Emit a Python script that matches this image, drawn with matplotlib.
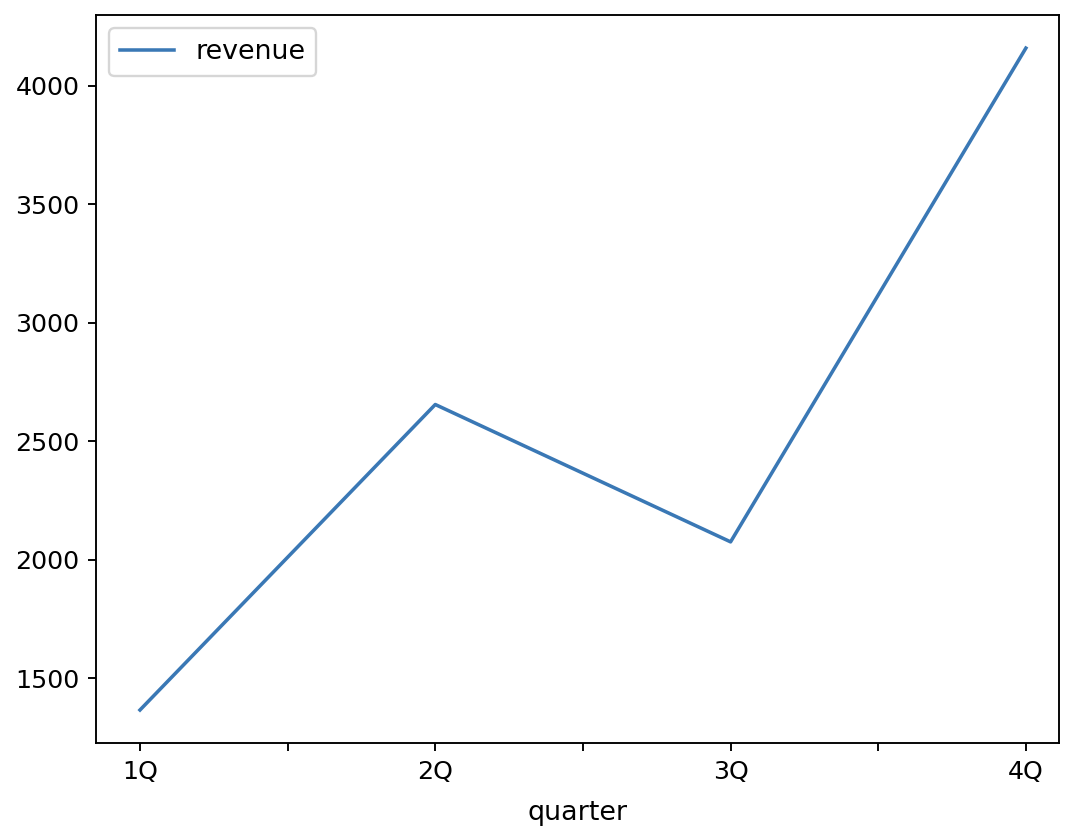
import matplotlib
matplotlib.use("Agg")
import matplotlib.pyplot as plt

quarters = ["1Q", "2Q", "3Q", "4Q"]
revenue = [1365, 2655, 2075, 4160]

fig = plt.figure(figsize=(1082 / 170, 834 / 170), dpi=170)
ax = fig.add_axes([0.0887, 0.109, 0.89, 0.873])

x = list(range(len(quarters)))
ax.plot(x, revenue, color="#3a78b5", label="revenue")

# ticks at half steps, labels only on the quarters
ticks = [i / 2 for i in range(2 * len(quarters) - 1)]
ax.set_xticks(ticks)
ax.set_xticklabels([quarters[int(t)] if t == int(t) else "" for t in ticks])
ax.set_xlim(-0.149, 3.112)
ax.tick_params(labelsize=10.7)
ax.set_xlabel("quarter", fontsize=11.4, labelpad=7)
ax.legend(loc="upper left", fontsize=11.4)

fig.savefig("out.png", dpi=170)
